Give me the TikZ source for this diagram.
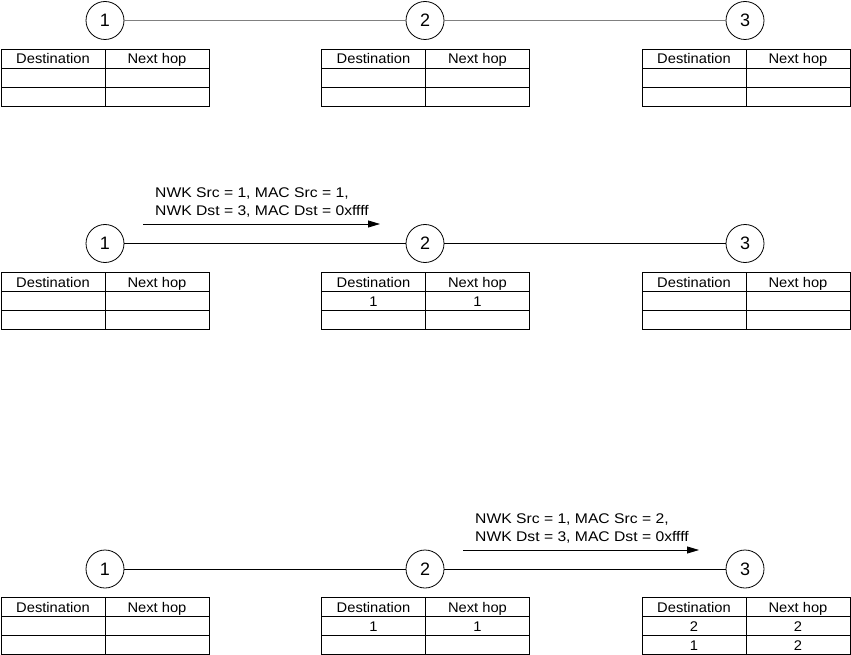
\documentclass[tikz,border=0pt]{standalone}
\usepackage{fontspec}
\setmainfont{Liberation Sans}
\newfontfamily\cellfont[FakeStretch=1.05]{Liberation Sans}
\newfontfamily\msgfont[FakeStretch=1.12]{Liberation Sans}
\usetikzlibrary{arrows.meta}
\definecolor{linkgray}{RGB}{128,128,128}
\newcommand\rtable[3]{%
  \draw[gridline] (#1-104,#2) rectangle (#1+104,#2+57);
  \draw[gridline] (#1-104,#2+19) -- (#1+104,#2+19) (#1-104,#2+38) -- (#1+104,#2+38) (#1,#2) -- (#1,#2+57);
  \node[cell] (#3d) at (#1-52,#2+14.5) {Destination};
  \node[cell] (#3n) at (#1+52,#2+14.5) {Next hop};
}
\begin{document}
\begin{tikzpicture}[x=1pt,y=-1pt,
  hop/.style={circle,draw,line width=0.8pt,minimum size=38pt,inner sep=0pt,font=\fontsize{18}{20}\selectfont},
  cell/.style={anchor=base,inner sep=0pt,font=\cellfont\fontsize{14}{16}\selectfont},
  msg/.style={anchor=base west,inner sep=0pt,font=\msgfont\fontsize{14}{16}\selectfont},
  link/.style={line width=0.8pt},
  faint/.style={line width=0.8pt,draw=linkgray},
  flow/.style={line width=0.8pt,-{Triangle[length=12pt,width=7pt]}},
  gridline/.style={line width=0.8pt}]
\useasboundingbox (0,0) rectangle (851,655);

% ---- row 1 ----
\node[hop] (a1) at (105,20.5) {1};
\node[hop] (a2) at (425,20.5) {2};
\node[hop] (a3) at (745,20.5) {3};
\draw[faint] (a1) -- (a2);
\draw[faint] (a2) -- (a3);
\rtable{105}{49.5}{ta}
\rtable{425.5}{49.5}{tb}
\rtable{746}{49.5}{tc}

% ---- row 2 ----
\node[hop] (b1) at (105,243.5) {1};
\node[hop] (b2) at (425,243.5) {2};
\node[hop] (b3) at (745,243.5) {3};
\draw[link] (b1) -- (b2);
\draw[link] (b2) -- (b3);
\rtable{105}{272.5}{ua}
\rtable{425.5}{272.5}{ub}
\rtable{746}{272.5}{uc}
\node[cell] (ub1d) at (425.5-52,272.5+33.5) {1};
\node[cell] (ub1n) at (425.5+52,272.5+33.5) {1};
\node[msg] (m1a) at (155,197) {NWK Src = 1, MAC Src = 1,};
\node[msg] (m1b) at (155,215) {NWK Dst = 3, MAC Dst = 0xffff};
\coordinate (f1s) at (143,224);
\coordinate (f1e) at (380,224);
\draw[flow] (f1s) -- (f1e);

% ---- row 3 ----
\node[hop] (c1) at (105,569) {1};
\node[hop] (c2) at (425,569) {2};
\node[hop] (c3) at (745,569) {3};
\draw[link] (c1) -- (c2);
\draw[link] (c2) -- (c3);
\rtable{105}{597.5}{va}
\rtable{425.5}{597.5}{vb}
\rtable{746}{597.5}{vc}
\node[cell] (vb1d) at (425.5-52,597.5+33.5) {1};
\node[cell] (vb1n) at (425.5+52,597.5+33.5) {1};
\node[cell] (vc1d) at (746-52,597.5+33.5) {2};
\node[cell] (vc1n) at (746+52,597.5+33.5) {2};
\node[cell] (vc2d) at (746-52,597.5+52.5) {1};
\node[cell] (vc2n) at (746+52,597.5+52.5) {2};
\node[msg] (m2a) at (475,523) {NWK Src = 1, MAC Src = 2,};
\node[msg] (m2b) at (475,541) {NWK Dst = 3, MAC Dst = 0xffff};
\coordinate (f2s) at (463,550);
\coordinate (f2e) at (699,550);
\draw[flow] (f2s) -- (f2e);
\end{tikzpicture}
\end{document}
